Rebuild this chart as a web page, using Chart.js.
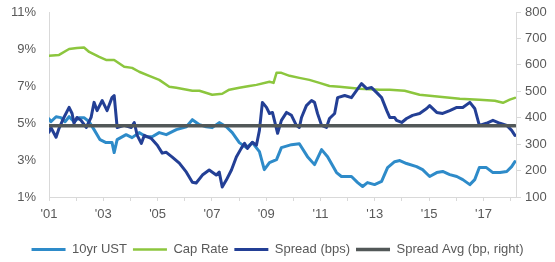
<!DOCTYPE html>
<html>
<head>
<meta charset="utf-8">
<script src="https://cdn.jsdelivr.net/npm/chart.js@4/dist/chart.umd.min.js"></script>
<style>
  html, body { margin: 0; padding: 0; background: #fff; }
  #wrap { width: 555px; height: 262px; }
</style>
</head>
<body>
<div id="wrap"><canvas id="spreadChart"></canvas></div>
<script>
// 10yr UST (%), left axis
const ustYears = [2001.00, 2001.07, 2001.26, 2001.44, 2001.59, 2001.74, 2001.92, 2002.11, 2002.29, 2002.48, 2002.66, 2002.88, 2003.10, 2003.32, 2003.40, 2003.51, 2003.84, 2004.06, 2004.32, 2004.58, 2004.80, 2005.06, 2005.32, 2005.69, 2006.06, 2006.28, 2006.54, 2006.79, 2007.01, 2007.27, 2007.53, 2007.75, 2008.01, 2008.27, 2008.49, 2008.75, 2008.93, 2009.12, 2009.38, 2009.56, 2009.93, 2010.22, 2010.52, 2010.78, 2011.04, 2011.26, 2011.59, 2011.77, 2012.14, 2012.37, 2012.55, 2012.73, 2012.99, 2013.25, 2013.47, 2013.73, 2013.92, 2014.17, 2014.54, 2014.76, 2015.02, 2015.28, 2015.50, 2015.76, 2016.02, 2016.24, 2016.50, 2016.68, 2016.85, 2017.11, 2017.35, 2017.61, 2017.86, 2018.04, 2018.16];
const ust10 = [5.23, 5.07, 5.34, 5.29, 5.07, 5.34, 5.07, 5.29, 5.29, 5.07, 4.64, 4.10, 3.94, 3.95, 3.40, 4.10, 4.37, 4.21, 4.48, 4.26, 4.26, 4.48, 4.37, 4.64, 4.80, 5.18, 4.91, 4.80, 4.75, 5.02, 4.80, 4.48, 3.94, 3.67, 3.94, 3.45, 2.48, 2.86, 3.02, 3.67, 3.83, 3.88, 3.18, 2.75, 3.56, 3.18, 2.32, 2.11, 2.11, 1.78, 1.57, 1.78, 1.67, 1.84, 2.59, 2.91, 2.97, 2.81, 2.64, 2.48, 2.11, 2.32, 2.38, 2.21, 2.11, 1.94, 1.67, 1.94, 2.59, 2.59, 2.32, 2.32, 2.38, 2.64, 2.91];

// Cap Rate (%), left axis
const capYears = [2001.00, 2001.37, 2001.74, 2002.03, 2002.29, 2002.48, 2002.85, 2003.10, 2003.40, 2003.77, 2004.06, 2004.32, 2004.69, 2005.06, 2005.43, 2005.69, 2006.28, 2006.54, 2007.01, 2007.38, 2007.64, 2008.01, 2008.38, 2008.64, 2009.12, 2009.27, 2009.38, 2009.56, 2009.86, 2010.22, 2010.59, 2010.96, 2011.33, 2011.70, 2012.07, 2012.44, 2013.18, 2013.55, 2014.10, 2014.65, 2015.39, 2016.13, 2016.85, 2017.42, 2017.72, 2017.97, 2018.16];
const capRate = [8.63, 8.68, 9.00, 9.06, 9.08, 8.84, 8.57, 8.41, 8.41, 8.04, 7.98, 7.77, 7.55, 7.33, 6.96, 6.90, 6.74, 6.74, 6.53, 6.58, 6.80, 6.90, 7.00, 7.06, 7.23, 7.17, 7.71, 7.71, 7.55, 7.44, 7.33, 7.17, 7.00, 6.96, 6.90, 6.85, 6.80, 6.80, 6.74, 6.53, 6.42, 6.31, 6.26, 6.20, 6.09, 6.26, 6.36];

// Spread (bps), right axis
const spreadYears = [2001.00, 2001.07, 2001.26, 2001.37, 2001.55, 2001.74, 2001.85, 2001.92, 2002.03, 2002.18, 2002.37, 2002.55, 2002.66, 2002.77, 2002.96, 2003.14, 2003.32, 2003.40, 2003.51, 2003.77, 2004.03, 2004.14, 2004.25, 2004.40, 2004.51, 2004.76, 2004.99, 2005.17, 2005.32, 2005.54, 2005.80, 2006.06, 2006.28, 2006.42, 2006.65, 2006.90, 2007.16, 2007.27, 2007.38, 2007.53, 2007.72, 2007.90, 2008.08, 2008.20, 2008.31, 2008.49, 2008.64, 2008.75, 2008.86, 2009.01, 2009.12, 2009.23, 2009.42, 2009.56, 2009.75, 2009.93, 2010.11, 2010.22, 2010.30, 2010.48, 2010.67, 2010.78, 2010.89, 2011.04, 2011.22, 2011.33, 2011.52, 2011.63, 2011.89, 2012.14, 2012.33, 2012.51, 2012.70, 2012.88, 2013.07, 2013.25, 2013.44, 2013.55, 2013.73, 2013.80, 2013.99, 2014.17, 2014.39, 2014.65, 2014.91, 2015.02, 2015.28, 2015.50, 2015.76, 2016.02, 2016.24, 2016.50, 2016.68, 2016.85, 2017.11, 2017.35, 2017.61, 2017.86, 2018.04, 2018.16];
const spreadBps = [345, 363, 326, 360, 401, 439, 416, 379, 401, 390, 363, 401, 458, 427, 465, 427, 476, 484, 363, 371, 363, 382, 333, 303, 333, 322, 296, 266, 269, 251, 228, 194, 156, 153, 183, 202, 183, 194, 138, 164, 202, 251, 284, 303, 284, 307, 296, 352, 458, 439, 416, 420, 341, 390, 420, 409, 371, 363, 401, 446, 465, 458, 416, 371, 363, 397, 416, 476, 484, 476, 503, 529, 510, 514, 495, 476, 427, 401, 401, 390, 382, 397, 409, 416, 435, 446, 420, 416, 427, 439, 439, 458, 435, 371, 379, 390, 379, 371, 352, 333];

// Spread average (bps), right axis
const avgYears = [2001.00, 2018.16];
const spreadAvg = [370, 370];

const xMin = 2001;
const xMax = 2018.2;

function toPoints(xs, ys) {
  return xs.map((x, i) => ({ x: x, y: ys[i] }));
}

const tickColor = '#595959';
const axisColor = '#d9d9d9';

const ctx = document.getElementById('spreadChart').getContext('2d');
const chart = new Chart(ctx, {
  type: 'line',
  data: {
    datasets: [
      {
        label: '10yr UST',
        data: toPoints(ustYears, ust10),
        borderColor: '#2e8bc9',
        borderWidth: 3,
        yAxisID: 'y',
        order: 4
      },
      {
        label: 'Cap Rate',
        data: toPoints(capYears, capRate),
        borderColor: '#8cc63e',
        borderWidth: 2.5,
        yAxisID: 'y',
        order: 3
      },
      {
        label: 'Spread (bps)',
        data: toPoints(spreadYears, spreadBps),
        borderColor: '#233f95',
        borderWidth: 3,
        yAxisID: 'y1',
        order: 2
      },
      {
        label: 'Spread Avg (bp, right)',
        data: toPoints(avgYears, spreadAvg),
        borderColor: '#525858',
        borderWidth: 3.5,
        yAxisID: 'y1',
        order: 1
      }
    ]
  },
  options: {
    responsive: true,
    maintainAspectRatio: false,
    animation: false,
    layout: { padding: { top: 12, left: 0, right: 0, bottom: 0 } },
    elements: {
      point: { radius: 0 },
      line: { tension: 0, borderCapStyle: 'round', borderJoinStyle: 'round', fill: false }
    },
    scales: {
      x: {
        type: 'linear',
        min: xMin,
        max: xMax,
        grid: { display: true, drawOnChartArea: false, drawTicks: true, tickLength: 4, color: axisColor },
        border: { display: true, color: axisColor },
        ticks: {
          stepSize: 1,
          autoSkip: false,
          includeBounds: false,
          maxRotation: 0,
          padding: 6,
          color: tickColor,
          font: { family: 'Liberation Sans, Arial, sans-serif', size: 13 },
          callback: function(value) {
            const yr = Math.round(value);
            if (Math.abs(value - yr) > 0.001 || yr % 2 === 0) return '';
            return "'" + String(yr).slice(2);
          }
        },
        afterFit: function(scale) { scale.height = 40; }
      },
      y: {
        position: 'left',
        min: 1,
        max: 11,
        // invisible tick marks keep the labels clear of the axis line
        grid: { display: true, drawOnChartArea: false, drawTicks: true, tickLength: 9, tickColor: 'rgba(0,0,0,0)', color: axisColor },
        border: { display: true, color: axisColor },
        ticks: {
          stepSize: 2,
          padding: 4,
          color: tickColor,
          font: { family: 'Liberation Sans, Arial, sans-serif', size: 13 },
          callback: v => v + '%'
        },
        afterFit: function(scale) { scale.width = 49; }
      },
      y1: {
        position: 'right',
        min: 100,
        max: 800,
        grid: { display: true, drawOnChartArea: false, drawTicks: true, tickLength: 5, color: axisColor },
        border: { display: true, color: axisColor },
        ticks: {
          stepSize: 100,
          padding: 4,
          color: tickColor,
          font: { family: 'Liberation Sans, Arial, sans-serif', size: 13 }
        },
        afterFit: function(scale) { scale.width = 39; }
      }
    },
    plugins: {
      tooltip: { enabled: false },
      legend: {
        position: 'bottom',
        maxHeight: 25,
        labels: {
          usePointStyle: true,
          pointStyle: 'line',
          pointStyleWidth: 34,
          padding: 6,
          color: tickColor,
          font: { family: 'Liberation Sans, Arial, sans-serif', size: 13 },
          sort: (a, b) => a.datasetIndex - b.datasetIndex
        }
      }
    }
  }
});
</script>
</body>
</html>
